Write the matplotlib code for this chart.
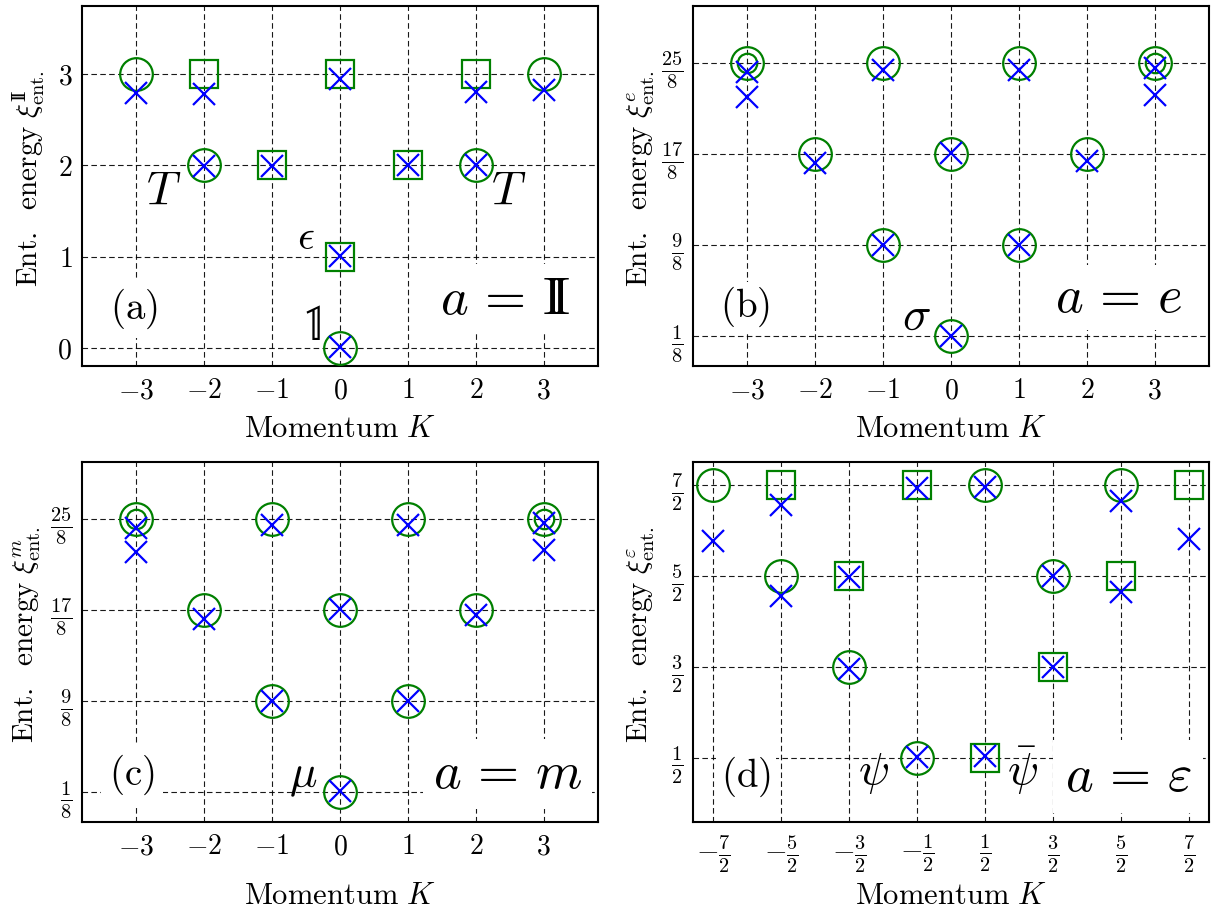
import matplotlib
matplotlib.use("Agg")
import matplotlib.pyplot as plt

plt.rcParams['mathtext.fontset'] = 'cm'
plt.rcParams['font.family'] = 'serif'
plt.rcParams['axes.linewidth'] = 1.5

# ---- panel (a): a = identity sector
a_circ_k = [-3, -2, 0, 2, 3]
a_circ_e = [3, 2, 0, 2, 3]
a_sq_k = [-2, -1, 0, 0, 1, 2]
a_sq_e = [3, 2, 3, 1, 2, 3]
a_x_k = [-3, -2, -2, -1, 0, 0, 0, 1, 2, 2, 3]
a_x_e = [2.79, 2.78, 1.99, 1.99, 2.95, 1.01, 0.01, 2.0, 2.81, 2.0, 2.83]

# ---- panel (b): a = e
b_circ_k = [-3, -1, 1, 3, -2, 0, 2, -1, 1, 0]
b_circ_e = [25/8, 25/8, 25/8, 25/8, 17/8, 17/8, 17/8, 9/8, 9/8, 1/8]
b_dbl_k = [-3, 3]
b_dbl_e = [25/8, 25/8]
b_x_k = [-3, -3, -1, 1, 3, 3, -2, 0, 2, -1, 1, 0]
b_x_e = [3.03, 2.75, 3.05, 3.05, 3.07, 2.77, 2.03, 2.135, 2.05, 1.125, 1.13, 0.13]

# ---- panel (c): a = m
c_circ_k = [-3, -1, 1, 3, -2, 0, 2, -1, 1, 0]
c_circ_e = [25/8, 25/8, 25/8, 25/8, 17/8, 17/8, 17/8, 9/8, 9/8, 1/8]
c_dbl_k = [-3, 3]
c_dbl_e = [25/8, 25/8]
c_x_k = [-3, -3, -1, 1, 3, 3, -2, 0, 2, -1, 1, 0]
c_x_e = [3.03, 2.76, 3.06, 3.06, 3.08, 2.78, 2.03, 2.14, 2.07, 1.13, 1.13, 0.135]

# ---- panel (d): a = varepsilon
d_circ_k = [-3.5, -2.5, -1.5, -0.5, 0.5, 1.5, 2.5]
d_circ_e = [3.5, 2.5, 1.5, 0.5, 3.5, 2.5, 3.5]
d_sq_k = [-2.5, -1.5, -0.5, 0.5, 1.5, 2.5, 3.5]
d_sq_e = [3.5, 2.5, 3.5, 0.5, 1.5, 2.5, 3.5]
d_x_k = [-3.5, -2.5, -2.5, -1.5, -1.5, -0.5, -0.5, 0.5, 0.5, 1.5, 1.5, 2.5, 2.5, 3.5]
d_x_e = [2.88, 3.28, 2.28, 2.49, 1.48, 3.46, 0.51, 3.48, 0.52, 2.5, 1.5, 3.32, 2.32, 2.91]

# ticks
int_ticks = [-3, -2, -1, 0, 1, 2, 3]
int_labels = ['$-3$', '$-2$', '$-1$', '$0$', '$1$', '$2$', '$3$']
a_yticks = [0, 1, 2, 3]
a_ylabels = ['$0$', '$1$', '$2$', '$3$']
eighth_ticks = [1/8, 9/8, 17/8, 25/8]
eighth_labels = [r'$\frac{1}{8}$', r'$\frac{9}{8}$', r'$\frac{17}{8}$', r'$\frac{25}{8}$']
half_ticks = [-3.5, -2.5, -1.5, -0.5, 0.5, 1.5, 2.5, 3.5]
half_labels = [r'$-\frac{7}{2}$', r'$-\frac{5}{2}$', r'$-\frac{3}{2}$', r'$-\frac{1}{2}$',
               r'$\frac{1}{2}$', r'$\frac{3}{2}$', r'$\frac{5}{2}$', r'$\frac{7}{2}$']
half_yticks = [0.5, 1.5, 2.5, 3.5]
half_ylabels = [r'$\frac{1}{2}$', r'$\frac{3}{2}$', r'$\frac{5}{2}$', r'$\frac{7}{2}$']

GREEN = '#008000'
BLUE = '#0000ff'
# blackboard-bold I, built from two roman I's
BBI = r'\mathrm{I}\hspace{-0.25}\mathrm{I}'

fig = plt.figure(figsize=(12.16, 9.09), dpi=100)
W, H = 1216., 909.
boxes = {
    'a': (82, 366, 598, 6),
    'b': (693, 366, 1209, 6),
    'c': (82, 822, 598, 462),
    'd': (693, 822, 1209, 462),
}


def make_ax(key):
    l, b, r, t = boxes[key]
    return fig.add_axes([l / W, 1 - b / H, (r - l) / W, (b - t) / H])


def style(ax, xt, xl, yt, yl, ylab, xlab_y, ylab_x, xsize=20, ysize=20):
    ax.set_xlim(-3.8, 3.8)
    ax.set_ylim(-0.2, 3.75)
    ax.set_xticks(xt)
    ax.set_xticklabels(xl, fontsize=xsize)
    ax.set_yticks(yt)
    ax.set_yticklabels(yl, fontsize=ysize)
    ax.tick_params(length=0)
    ax.tick_params(axis='x', pad=8)
    ax.tick_params(axis='y', pad=7)
    ax.grid(True, color='k', lw=0.8, linestyle=(0, (5, 3)), alpha=0.9)
    ax.set_axisbelow(True)
    ax.set_xlabel(r'$\mathrm{Momentum}\ K$', fontsize=22)
    ax.set_ylabel(ylab, fontsize=21)
    ax.xaxis.set_label_coords(0.5, xlab_y)
    ax.yaxis.set_label_coords(ylab_x, 0.52)


def marks(ax, circ_k, circ_e, x_k, x_e, sq_k=None, sq_e=None, dbl_k=None, dbl_e=None):
    ax.plot(circ_k, circ_e, ls='none', marker='o', ms=23.5, mfc='none', mec=GREEN, mew=1.6, zorder=4)
    if dbl_k is not None:
        ax.plot(dbl_k, dbl_e, ls='none', marker='o', ms=14, mfc='none', mec=GREEN, mew=1.6, zorder=4)
    if sq_k is not None:
        ax.plot(sq_k, sq_e, ls='none', marker='s', ms=19.5, mfc='none', mec=GREEN, mew=1.6, zorder=4)
    ax.plot(x_k, x_e, ls='none', marker='x', ms=16, mec=BLUE, mew=1.6, zorder=5)


def label(ax, k, e, s, size, boxed=False, pad=5):
    kw = {}
    if boxed:
        kw['bbox'] = dict(facecolor='white', edgecolor='none', pad=pad)
    ax.text(k, e, s, fontsize=size, ha='center', va='center', zorder=3, **kw)


# (a)
ax = make_ax('a')
marks(ax, a_circ_k, a_circ_e, a_x_k, a_x_e, a_sq_k, a_sq_e)
style(ax, int_ticks, int_labels, a_yticks, a_ylabels,
      r'$\mathrm{Ent.\ \ energy}\ \xi^{' + BBI + r'}_{\mathrm{ent.}}$', -0.13, -0.068)
label(ax, -2.6, 1.72, r'$T$', 34)
label(ax, 2.49, 1.72, r'$T$', 34)
label(ax, -0.5, 1.21, r'$\epsilon$', 30)
label(ax, -0.43, 0.24, r'$\mathbb{1}$', 36)
label(ax, -3.03, 0.425, r'$\mathrm{(a)}$', 28, True, 5)
label(ax, 2.43, 0.53, r'$a\,=\,' + BBI + '$', 38, True, 7)

# (b)
ax = make_ax('b')
marks(ax, b_circ_k, b_circ_e, b_x_k, b_x_e, dbl_k=b_dbl_k, dbl_e=b_dbl_e)
style(ax, int_ticks, int_labels, eighth_ticks, eighth_labels,
      r'$\mathrm{Ent.\ \ energy}\ \xi^{e}_{\mathrm{ent.}}$', -0.13, -0.07, ysize=21)
label(ax, -0.51, 0.34, r'$\sigma$', 34)
label(ax, -3.04, 0.45, r'$\mathrm{(b)}$', 28, True, 2)
label(ax, 2.47, 0.55, r'$a\,=\,e$', 38, True, 5)

# (c)
ax = make_ax('c')
marks(ax, c_circ_k, c_circ_e, c_x_k, c_x_e, dbl_k=c_dbl_k, dbl_e=c_dbl_e)
style(ax, int_ticks, int_labels, eighth_ticks, eighth_labels,
      r'$\mathrm{Ent.\ \ energy}\ \xi^{m}_{\mathrm{ent.}}$', -0.16, -0.075, ysize=21)
label(ax, -0.54, 0.3, r'$\mu$', 33)
label(ax, -3.07, 0.315, r'$\mathrm{(c)}$', 28, True, 6)
label(ax, 2.47, 0.33, r'$a\,=\,m$', 38, True, 7)

# (d)
ax = make_ax('d')
marks(ax, d_circ_k, d_circ_e, d_x_k, d_x_e, d_sq_k, d_sq_e)
style(ax, half_ticks, half_labels, half_yticks, half_ylabels,
      r'$\mathrm{Ent.\ \ energy}\ \xi^{\varepsilon}_{\mathrm{ent.}}$', -0.16, -0.07,
      xsize=21, ysize=21)
label(ax, -1.14, 0.33, r'$\psi$', 33)
label(ax, 1.05, 0.36, r'$\bar{\psi}$', 33)
label(ax, -3.02, 0.3, r'$\mathrm{(d)}$', 28, True, 4)
label(ax, 2.61, 0.3, r'$a\,=\,\varepsilon$', 38, True, 8)

fig.savefig('out.png', dpi=100)
